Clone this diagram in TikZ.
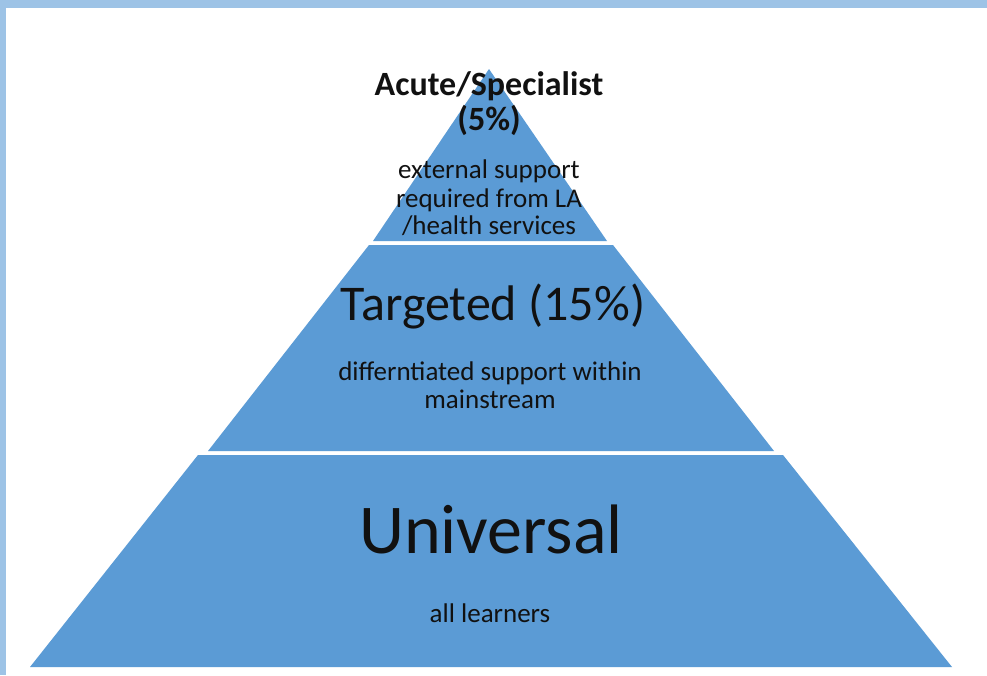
\documentclass[tikz,border=0pt]{standalone}
\usepackage{fontspec}
\setmainfont{Carlito}
\definecolor{tierblue}{HTML}{5B9BD5}
\definecolor{frameblue}{HTML}{9DC3E6}
\definecolor{txt}{HTML}{111111}
\begin{document}
\begin{tikzpicture}[x=1pt,y=-1pt,
  tier/.style={fill=tierblue,draw=none},
  lbl/.style={anchor=base,inner sep=0pt,text=txt},
  headA/.style={lbl,font=\fontsize{34}{36}\selectfont\bfseries},
  headB/.style={lbl,font=\fontsize{50}{54}\selectfont},
  headC/.style={lbl,font=\fontsize{70}{75}\selectfont},
  desc/.style={lbl,font=\fontsize{27}{29}\selectfont}]
\useasboundingbox (0,0) rectangle (987,675);
\fill[white] (0,0) rectangle (987,675);
\fill[frameblue] (0,0) rectangle (987,8);
\fill[frameblue] (0,0) rectangle (6,675);
% tiers
\fill[tier] (489,69) -- (607,241) -- (373,241) -- cycle;
\fill[tier] (369,245) -- (613,245) -- (774,451) -- (208,451) -- cycle;
\fill[tier] (198,455) -- (783,455) -- (952,667) -- (30,667) -- cycle;
% top tier text
\node[headA] (a1) at (489,95) {Acute/Specialist};
\node[headA] (a2) at (489,130) {(5\%)};
\node[desc] (a3) at (489,178) {external support};
\node[desc] (a4) at (489,207) {required from LA};
\node[desc] (a5) at (489,234) {/health services};
% middle tier text
\node[headB] (b1) at (493,320) {Targeted (15\%)};
\node[desc] (b2) at (490,380) {differntiated support within};
\node[desc] (b3) at (490,408) {mainstream};
% bottom tier text
\node[headC] (c1) at (491,553) {Universal};
\node[desc] (c2) at (490,622) {all learners};
\end{tikzpicture}
\end{document}
